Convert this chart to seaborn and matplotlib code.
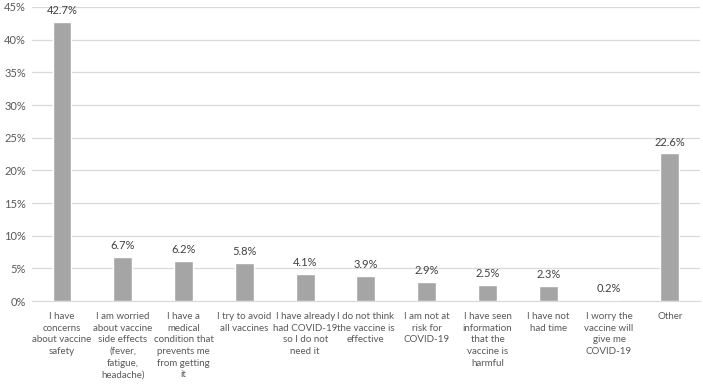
import matplotlib
matplotlib.use("Agg")
import matplotlib.pyplot as plt
import seaborn as sns
import pandas as pd
from matplotlib.ticker import FuncFormatter

# Data
reasons = [
    "I have\nconcerns\nabout vaccine\nsafety",
    "I am worried\nabout vaccine\nside effects\n(fever,\nfatigue,\nheadache)",
    "I have a\nmedical\ncondition that\nprevents me\nfrom getting\nit",
    "I try to avoid\nall vaccines",
    "I have already\nhad COVID-19\nso I do not\nneed it",
    "I do not think\nthe vaccine is\neffective",
    "I am not at\nrisk for\nCOVID-19",
    "I have seen\ninformation\nthat the\nvaccine is\nharmful",
    "I have not\nhad time",
    "I worry the\nvaccine will\ngive me\nCOVID-19",
    "Other",
]
percent = [42.7, 6.7, 6.2, 5.8, 4.1, 3.9, 2.9, 2.5, 2.3, 0.2, 22.6]

df = pd.DataFrame({"reason": reasons, "percent": percent})

sns.set_style("white")
plt.rcParams["font.family"] = ["Lato", "DejaVu Sans"]

fig = plt.figure(figsize=(7.03, 3.88), dpi=100)
ax = fig.add_axes([0.045, 0.224, 0.951, 0.758])

sns.barplot(data=df, x="reason", y="percent", color="#a5a5a5", width=0.31,
            saturation=1, ax=ax, zorder=3)

ax.set_ylim(0, 45)
ax.set_yticks(range(0, 50, 5))
ax.yaxis.set_major_formatter(FuncFormatter(lambda v, p: f"{int(v)}%"))
ax.grid(axis="y", color="#d9d9d9", linewidth=0.9, zorder=0)
for s in ["top", "right", "left"]:
    ax.spines[s].set_visible(False)
ax.spines["bottom"].set_color("#d9d9d9")
ax.tick_params(axis="y", length=0, labelsize=8, colors="#595959", pad=4)
ax.tick_params(axis="x", length=0, labelsize=7.0, colors="#595959", pad=8)
ax.set_xlabel("")
ax.set_ylabel("")
for lbl in ax.get_xticklabels():
    lbl.set_linespacing(1.37)

for i, v in enumerate(percent):
    ax.text(i, v + 0.9, f"{v}%", ha="center", va="bottom", fontsize=8,
            color="#404040")

fig.savefig("out.png", dpi=100)
